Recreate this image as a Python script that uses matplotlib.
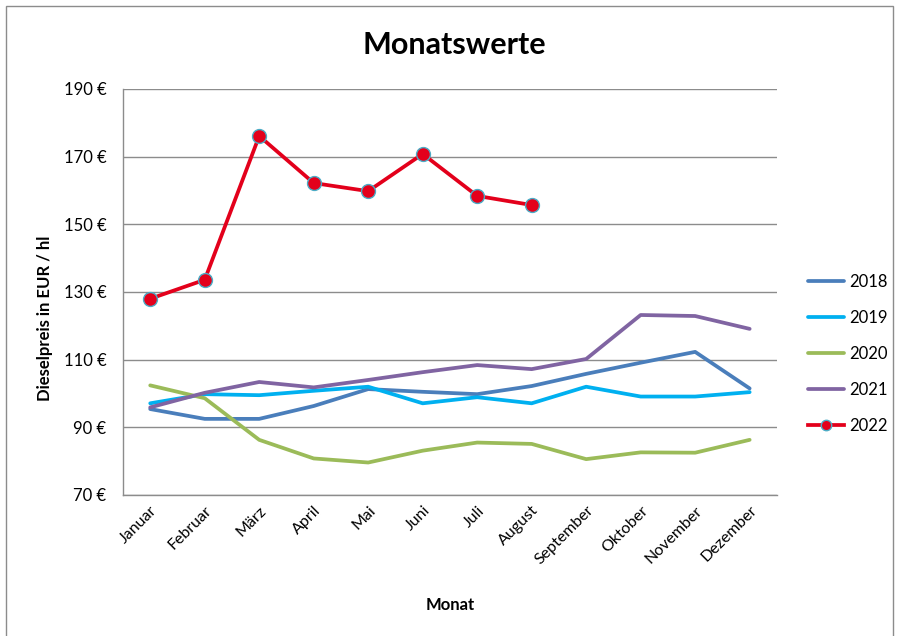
import matplotlib
matplotlib.use("Agg")
import matplotlib.pyplot as plt
from matplotlib.patches import Rectangle

plt.rcParams['font.family'] = ['Lato', 'DejaVu Sans']

monate = ['Januar', 'Februar', 'März', 'April', 'Mai', 'Juni', 'Juli',
          'August', 'September', 'Oktober', 'November', 'Dezember']

preise_2018 = [95.4, 92.5, 92.5, 96.3, 101.3, 100.5, 99.8, 102.2, 105.8, 109.1, 112.3, 101.5]
preise_2019 = [97.1, 99.8, 99.5, 100.8, 102.0, 97.1, 98.9, 97.1, 102.0, 99.1, 99.1, 100.4]
preise_2020 = [102.4, 98.6, 86.3, 80.8, 79.6, 83.1, 85.5, 85.1, 80.6, 82.6, 82.5, 86.3]
preise_2021 = [95.9, 100.2, 103.4, 101.8, 104.0, 106.3, 108.4, 107.2, 110.2, 123.2, 122.9, 119.1]
preise_2022 = [128.0, 133.6, 176.1, 162.2, 159.8, 170.8, 158.4, 155.7]

y_ticks = [70, 90, 110, 130, 150, 170, 190]

fig = plt.figure(figsize=(8.97, 6.36), dpi=100)
ax = fig.add_axes([0.1371, 0.2217, 0.729, 0.6384])

# outer chart frame
fig.patches.append(Rectangle((0.007, -0.01), 0.988, 1.0, transform=fig.transFigure,
                             fill=False, edgecolor='#8c8c8c', linewidth=1.0))

x = list(range(len(monate)))
lw = 2.7
ax.plot(x, preise_2018, color='#4a7ebb', lw=lw, label='2018', solid_capstyle='round')
ax.plot(x, preise_2019, color='#00b0f0', lw=lw, label='2019', solid_capstyle='round')
ax.plot(x, preise_2020, color='#9bbb59', lw=lw, label='2020', solid_capstyle='round')
ax.plot(x, preise_2021, color='#8064a2', lw=lw, label='2021', solid_capstyle='round')
ax.plot(x[:len(preise_2022)], preise_2022, color='#e3001b', lw=lw, label='2022',
        marker='o', markersize=10, markerfacecolor='#e3001b',
        markeredgecolor='#4bacc6', markeredgewidth=1.0)

ax.set_xlim(-0.5, 11.5)
ax.set_ylim(70, 190)
ax.set_yticks(y_ticks)
ax.set_yticklabels([f'{v} €' for v in y_ticks], fontsize=12)
ax.set_xticks(x)
ax.set_xticklabels(monate, rotation=45, ha='right', rotation_mode='anchor', fontsize=11.5)
ax.tick_params(length=0, pad=12)
ax.tick_params(axis='x', pad=6)

ax.grid(axis='y', color='#8c8c8c', linewidth=1.0)
ax.set_axisbelow(True)
for side in ['top', 'right']:
    ax.spines[side].set_visible(False)
for side in ['left', 'bottom']:
    ax.spines[side].set_color('#8c8c8c')
    ax.spines[side].set_linewidth(1.0)

fig.text(0.507, 0.929, 'Monatswerte', ha='center', va='center', fontsize=22, fontweight='bold')
fig.text(0.05, 0.5, 'Dieselpreis in EUR / hl', rotation=90, ha='center', va='center',
         fontsize=12, fontweight='bold')
fig.text(0.502, 0.049, 'Monat', ha='center', va='center', fontsize=12, fontweight='bold')

ax.legend(loc='center left', bbox_to_anchor=(0.893, 0.443), bbox_transform=fig.transFigure,
          frameon=False, fontsize=12, handlelength=2.2, handletextpad=0.3,
          labelspacing=1.2, borderaxespad=0, markerscale=0.75)

fig.savefig('out.png', dpi=100)
